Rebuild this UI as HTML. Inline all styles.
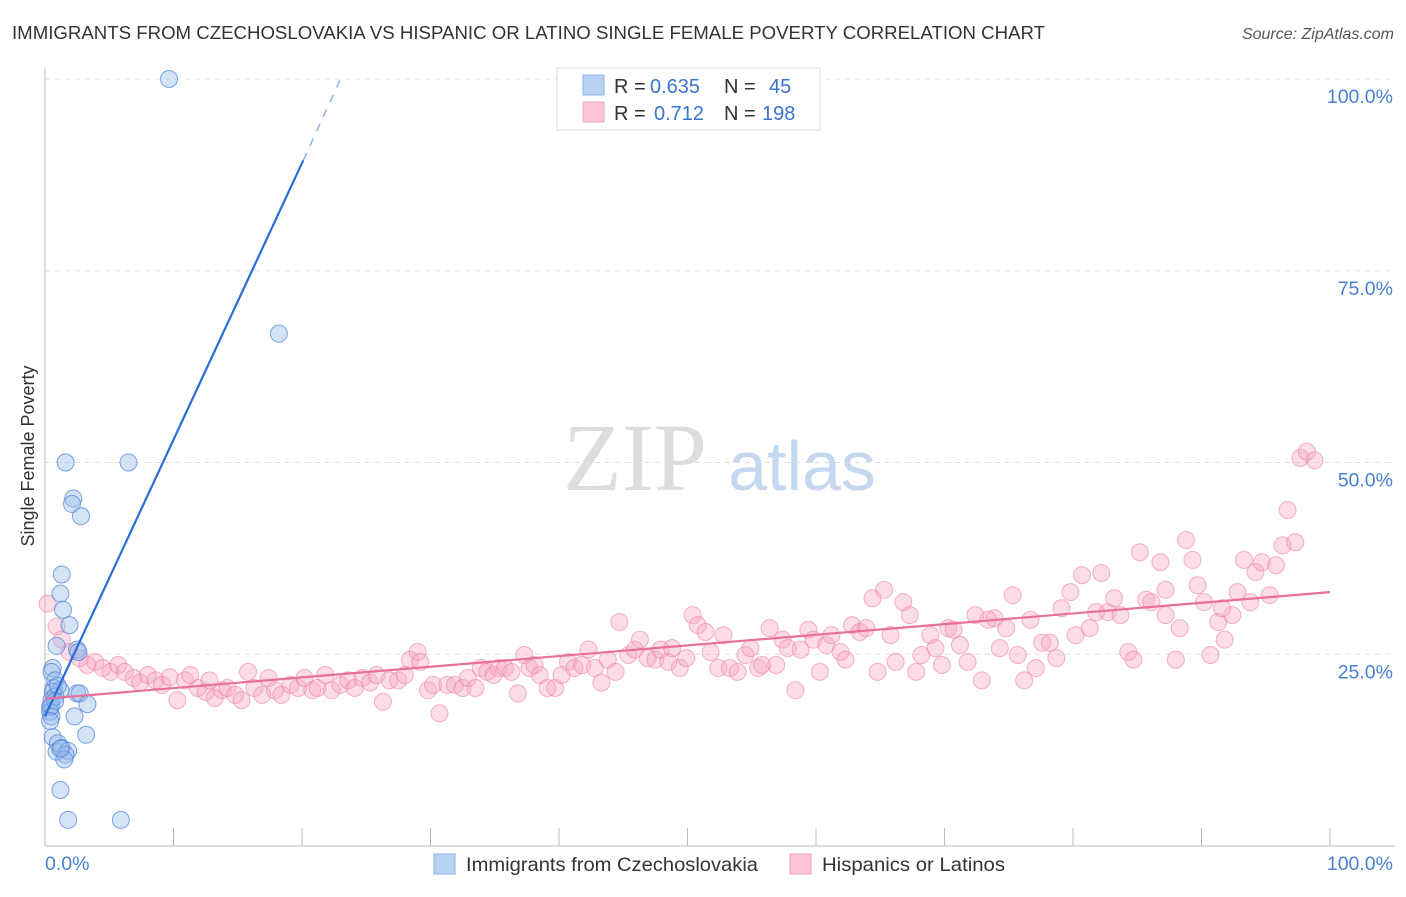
<!DOCTYPE html>
<html><head><meta charset="utf-8"><style>
body{margin:0;background:#fff;font-family:"Liberation Sans",sans-serif;}
</style></head><body>
<svg id="chart" width="1406" height="892" viewBox="0 0 1406 892" xmlns="http://www.w3.org/2000/svg">
<text x="12" y="39" font-size="18" fill="#333" textLength="1033" lengthAdjust="spacingAndGlyphs">IMMIGRANTS FROM CZECHOSLOVAKIA VS HISPANIC OR LATINO SINGLE FEMALE POVERTY CORRELATION CHART</text>
<text x="1394" y="39" font-size="16" fill="#555" font-style="italic" text-anchor="end">Source: ZipAtlas.com</text>
<g>
<text x="635" y="490" font-size="96" font-family="Liberation Serif,serif" fill="#ddd" text-anchor="middle">ZIP</text>
<text x="802" y="490" font-size="70" fill="#c5d8f0" text-anchor="middle">atlas</text>
</g>
<g id="grid"></g>
<g id="axes"></g>
<g id="pts"></g>
<g id="lines"></g>
<text transform="translate(34,456) rotate(-90)" font-size="18" fill="#333" text-anchor="middle">Single Female Poverty</text>
<text x="45" y="870" font-size="19.5" fill="#4a7fd4">0.0%</text>
<text x="1393" y="870" font-size="19.5" fill="#4a7fd4" text-anchor="end">100.0%</text>
<g>
<rect x="557" y="68" width="263" height="62" fill="#fff" stroke="#ddd"/>
<rect x="583" y="75" width="21" height="20" fill="#b8d0f2" stroke="#8fb2e6"/>
<rect x="583" y="102" width="21" height="20" fill="#fbc5d5" stroke="#f2a8be"/>
<text x="614" y="93" font-size="20" fill="#333">R = <tspan x="650" fill="#3a73d0">0.635</tspan><tspan x="724">N = </tspan><tspan x="769" fill="#3a73d0">45</tspan></text>
<text x="614" y="120" font-size="20" fill="#333">R = <tspan x="654" fill="#3a73d0">0.712</tspan><tspan x="724">N = </tspan><tspan x="762" fill="#3a73d0">198</tspan></text>
</g>
<g>
<rect x="434" y="854" width="21" height="20" fill="#b8d0f2" stroke="#8fb2e6"/>
<text x="466" y="871" font-size="19.5" fill="#333" textLength="292" lengthAdjust="spacingAndGlyphs">Immigrants from Czechoslovakia</text>
<rect x="790" y="854" width="21" height="20" fill="#fbc5d5" stroke="#f2a8be"/>
<text x="822" y="871" font-size="19.5" fill="#333" textLength="183" lengthAdjust="spacingAndGlyphs">Hispanics or Latinos</text>
</g>
</svg>
<script>
const yTicks=[25,50,75,100];
const yTickLabels=["25.0%","50.0%","75.0%","100.0%"];
const xTicks=[10,20,30,40,50,60,70,80,90,100];
const blueX=[9.65,18.2,1.6,6.5,2.2,2.1,2.8,1.3,1.2,1.4,1.9,0.9,2.5,2.6,0.6,0.5,0.8,0.7,1.2,0.6,2.5,2.7,0.5,3.3,0.4,0.4,0.5,2.3,0.6,1.0,0.9,1.3,1.8,1.6,3.2,1.2,1.8,5.9,0.5,0.8,1.0,0.4,1.5,1.2,0.8];
const blueY=[100,66.8,50,50,45.3,44.6,43.0,35.4,32.9,30.8,28.8,26.1,25.6,25.3,23.2,22.7,21.6,20.6,20.3,20.1,19.9,19.9,19.0,18.5,18.1,17.5,16.9,16.9,14.2,13.4,12.3,12.8,12.4,11.9,14.5,7.3,3.4,3.4,18.3,19.5,20.9,16.3,11.3,12.7,18.9];
const pinkX=[0.2,0.9,1.3,1.9,2.7,3.3,3.9,4.5,5.1,5.7,6.2,6.9,7.4,8.0,8.6,9.1,9.7,10.3,10.9,11.3,11.9,12.5,12.8,13.2,13.8,14.2,14.8,15.3,15.8,16.3,16.9,17.4,17.9,18.4,19.1,19.7,20.2,20.8,21.2,21.8,22.3,23.0,23.6,24.1,24.7,25.3,25.8,26.3,26.8,27.5,28.0,28.4,29.0,29.2,29.8,30.2,30.7,31.3,31.9,32.5,32.9,33.5,33.9,34.4,34.9,35.3,35.8,36.3,36.8,37.3,37.7,38.1,38.5,39.1,39.7,40.2,40.7,41.2,41.8,42.3,42.8,43.3,43.8,44.4,44.7,45.4,45.9,46.3,46.9,47.5,47.9,48.5,48.8,49.4,49.9,50.4,50.8,51.4,51.8,52.4,52.8,53.3,53.9,54.5,54.9,55.5,55.8,56.4,56.9,57.4,57.8,58.4,58.8,59.4,59.8,60.3,60.8,61.2,61.9,62.3,62.8,63.4,63.9,64.4,64.8,65.3,65.8,66.2,66.8,67.3,67.8,68.2,68.9,69.3,69.8,70.3,70.7,71.2,71.8,72.4,72.9,73.4,73.9,74.3,74.8,75.3,75.7,76.2,76.7,77.1,77.6,78.2,78.7,79.1,79.8,80.2,80.7,81.3,81.8,82.2,82.7,83.2,83.7,84.3,84.7,85.2,85.7,86.1,86.8,87.2,88.0,88.3,88.8,89.3,89.7,90.2,90.7,91.3,91.8,92.4,92.8,93.3,93.8,94.2,94.7,95.3,95.8,96.3,96.7,97.3,97.7,98.2,98.8,91.6,87.2];
const pinkY=[31.6,28.6,26.9,25.3,24.5,23.6,24.0,23.2,22.7,23.6,22.7,21.9,21.3,22.3,21.6,21.0,22.0,19.0,21.6,22.3,20.6,20.1,21.6,19.3,20.3,20.6,19.7,19.0,22.7,20.6,19.7,21.9,20.3,19.7,21.0,20.6,21.9,20.3,20.6,22.3,20.3,21.0,21.6,20.6,21.9,21.3,22.3,18.8,21.6,21.6,22.3,24.3,25.3,24.0,20.3,21.0,17.3,21.0,21.0,20.6,21.9,20.6,23.2,22.7,22.3,23.2,23.2,22.7,19.9,24.9,23.2,23.6,22.3,20.6,20.6,22.3,24.0,23.2,23.6,25.6,23.2,21.3,24.3,22.7,29.2,24.9,25.6,26.9,24.5,24.3,25.6,24.0,25.8,23.2,24.5,30.1,28.8,27.9,25.3,23.2,27.5,23.2,22.7,24.9,25.8,23.2,23.6,28.4,23.6,26.9,25.8,20.3,25.6,28.2,26.9,22.7,26.2,27.5,25.3,24.3,28.8,27.9,28.4,32.3,22.7,33.4,27.5,24.0,31.8,30.1,22.7,24.9,27.5,25.8,23.6,28.4,28.2,26.2,24.0,30.1,21.6,29.5,29.7,25.8,28.4,32.7,24.9,21.6,29.5,23.2,26.5,26.5,24.5,31.0,33.1,27.5,35.3,28.4,30.5,35.6,30.5,32.3,30.1,25.3,24.3,38.3,32.1,31.8,37.0,30.1,24.3,28.4,39.9,37.3,34.0,31.8,24.9,29.2,26.9,30.1,33.1,37.3,31.8,35.7,37.0,32.7,36.6,39.2,43.8,39.6,50.6,51.4,50.3,31.0,33.4];
const blueLine=[[0,16.9],[20.1,89.4]];
const blueDash=[[20.1,89.4],[23.0,100]];
const pinkLine=[[0,19.2],[100,33.1]];

const NS="http://www.w3.org/2000/svg";
const X0=45,X1=1330,Y0=846,Y100=79;
function sx(v){return X0+(X1-X0)*v/100;}
function sy(v){return Y0-(Y0-Y100)*v/100;}
function mk(tag,attrs,parent){const e=document.createElementNS(NS,tag);for(const k in attrs)e.setAttribute(k,attrs[k]);parent.appendChild(e);return e;}
const grid=document.getElementById('grid'),axes=document.getElementById('axes'),pts=document.getElementById('pts'),lines=document.getElementById('lines');
yTicks.forEach((t,i)=>{
  const g=mk('line',{x1:X0,x2:1395,y1:sy(t),y2:sy(t),stroke:'#ddd','stroke-dasharray':'5,5'},grid);
  
  
  const l=mk('text',{x:1393,y:sy(t)+24,'font-size':19.5,fill:'#4a7fd4','text-anchor':'end'},grid);
  l.textContent=yTickLabels[i];
  
  
});
const ya=mk('line',{x1:X0,x2:X0,y1:68,y2:Y0,stroke:'#bbb'},axes);


const xa=mk('line',{x1:X0,x2:1395,y1:Y0,y2:Y0,stroke:'#bbb'},axes);


xTicks.forEach(t=>{
  const e=mk('line',{x1:sx(t),x2:sx(t),y1:Y0,y2:828,stroke:'#bbb'},axes);
  
  
});
pinkX.forEach((x,i)=>{
  const c=mk('circle',{cx:sx(x),cy:sy(pinkY[i]),r:8.5,fill:'rgba(246,168,195,0.4)',stroke:'rgba(236,130,165,0.6)','stroke-width':1},pts);
  
  
});
blueX.forEach((x,i)=>{
  const c=mk('circle',{cx:sx(x),cy:sy(blueY[i]),r:8.5,fill:'rgba(150,185,235,0.4)',stroke:'rgba(80,135,215,0.75)','stroke-width':1},pts);
  
  
});
const bl=mk('line',{x1:sx(blueLine[0][0]),y1:sy(blueLine[0][1]),x2:sx(blueLine[1][0]),y2:sy(blueLine[1][1]),stroke:'#2a6dd6','stroke-width':2.2},lines);


const bd=mk('line',{x1:sx(blueDash[0][0]),y1:sy(blueDash[0][1]),x2:sx(blueDash[1][0]),y2:sy(blueDash[1][1]),stroke:'#8fb2e6','stroke-width':1.5,'stroke-dasharray':'8,8'},lines);


const pl=mk('line',{x1:sx(pinkLine[0][0]),y1:sy(pinkLine[0][1]),x2:sx(pinkLine[1][0]),y2:sy(pinkLine[1][1]),stroke:'#e8709a','stroke-width':2.2},lines);


</script>
</body></html>
